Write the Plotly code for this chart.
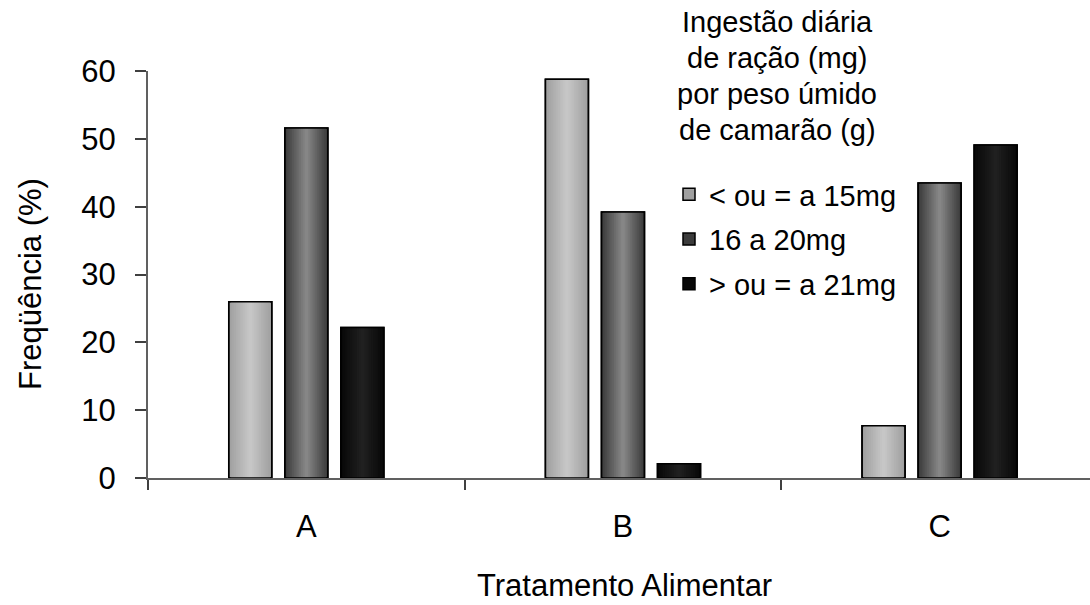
import plotly.graph_objects as go

# Data
categories = ["A", "B", "C"]
series_names = ["< ou = a 15mg", "16 a 20mg", "> ou = a 21mg"]
freq_le15 = [26.0, 58.8, 7.7]
freq_16_20 = [51.6, 39.2, 43.5]
freq_ge21 = [22.2, 2.1, 49.1]
legend_title_lines = ["Ingestão diária", "de ração (mg)", "por peso úmido", "de camarão (g)"]
y_ticks = [0, 10, 20, 30, 40, 50, 60]

series_values = [freq_le15, freq_16_20, freq_ge21]

# Shading for the cylinder-like bars: (edge colour, centre colour)
shades = [((160, 160, 160), (198, 198, 198)),
          ((60, 60, 60), (134, 134, 134)),
          ((8, 8, 8), (32, 32, 32))]

FONT = "Liberation Sans, Arial, sans-serif"
FS = 29
FS_AXIS = 31
BAR_W = 0.136
BAR_STEP = 0.177
N_LAYERS = 12

# Plot area geometry (pixels)
W, H = 1090, 605
L, R, T, B = 148, 0, 71, 127


def rgb(c):
    return "rgb(%d,%d,%d)" % c


def mix(a, b, t):
    return tuple(round(a[i] + (b[i] - a[i]) * t) for i in range(3))


fig = go.Figure()

for si, (name, vals) in enumerate(zip(series_names, series_values)):
    centre = (si - 1) * BAR_STEP
    edge, mid = shades[si]
    for k in range(N_LAYERS):
        w = BAR_W * (1 - k / N_LAYERS)
        t = k / (N_LAYERS - 1)
        col = mix(edge, mid, t)
        fig.add_trace(go.Bar(
            x=categories, y=vals, width=w, offset=centre - w / 2,
            marker=dict(color=rgb(col),
                        line=dict(color="black", width=1.5 if k == 0 else 0)),
            name=name, showlegend=(k == 0), legendgroup=name,
            hoverinfo="skip" if k else None,
        ))
    # crisp outline on top of the shading
    fig.add_trace(go.Bar(
        x=categories, y=vals, width=BAR_W, offset=centre - BAR_W / 2,
        marker=dict(color="rgba(0,0,0,0)", line=dict(color="black", width=1.5)),
        showlegend=False, hoverinfo="skip",
    ))

pw = W - L - R
ph = H - T - B


def px_to_paper_x(px):
    return (px - L) / pw


def px_to_paper_y(py):
    return (H - B - py) / ph


annotations = []
for i, line in enumerate(legend_title_lines):
    annotations.append(dict(
        text=line, x=px_to_paper_x(777), y=px_to_paper_y(22 + 36 * i),
        xref="paper", yref="paper", xanchor="center", yanchor="middle",
        showarrow=False, font=dict(family=FONT, size=FS, color="black"),
    ))

annotations.append(dict(
    text="Freqüência (%)", x=px_to_paper_x(30), y=px_to_paper_y(284),
    xref="paper", yref="paper", xanchor="center", yanchor="middle",
    textangle=-90, showarrow=False, font=dict(family=FONT, size=FS_AXIS, color="black"),
))
annotations.append(dict(
    text="Tratamento Alimentar", x=px_to_paper_x(624), y=px_to_paper_y(585),
    xref="paper", yref="paper", xanchor="center", yanchor="middle",
    showarrow=False, font=dict(family=FONT, size=FS_AXIS, color="black"),
))

fig.update_layout(
    width=W, height=H,
    margin=dict(l=L, r=R, t=T, b=B, pad=0),
    paper_bgcolor="white", plot_bgcolor="white",
    barmode="overlay",
    font=dict(family=FONT, size=FS, color="black"),
    showlegend=True,
    legend=dict(
        x=px_to_paper_x(669), y=px_to_paper_y(169), xanchor="left", yanchor="top",
        bgcolor="rgba(0,0,0,0)", borderwidth=0,
        font=dict(family=FONT, size=FS, color="black"),
        tracegroupgap=4, traceorder="grouped", itemwidth=30,
    ),
    annotations=annotations,
)

fig.update_xaxes(
    type="category", categoryorder="array", categoryarray=categories,
    range=[-0.5, 2.475], showline=True, linecolor="#606060", linewidth=2,
    ticks="outside", tickson="boundaries", ticklen=10, tickwidth=2,
    tickcolor="#404040", showgrid=False, zeroline=False,
    ticklabelstandoff=20, tickfont=dict(family=FONT, size=FS_AXIS, color="black"),
)
fig.update_yaxes(
    range=[0, 60], tickvals=y_ticks, showline=True, linecolor="#606060",
    linewidth=2, ticks="outside", ticklen=11, tickwidth=2, tickcolor="#404040",
    showgrid=False, zeroline=False, ticklabelstandoff=13,
    tickfont=dict(family=FONT, size=FS_AXIS, color="black"),
)

fig.write_html("out.html")
